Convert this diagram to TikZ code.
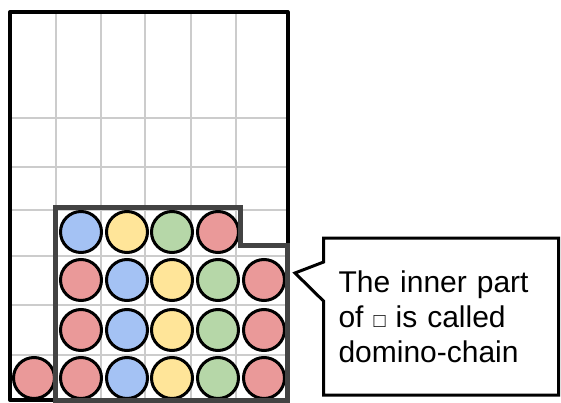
\documentclass[tikz,border=0pt]{standalone}
\usepackage{fontspec}
\setmainfont{Liberation Sans}
\usetikzlibrary{shapes.callouts}
\definecolor{ballred}{HTML}{EA9999}
\definecolor{ballblue}{HTML}{A4C2F4}
\definecolor{ballyellow}{HTML}{FFE599}
\definecolor{ballgreen}{HTML}{B6D7A8}
\definecolor{gridgray}{HTML}{CCCCCC}
\definecolor{chaingray}{HTML}{434343}

\begin{document}
\begin{tikzpicture}[x=1pt,y=-1pt,line width=2pt,
  ball/.style={circle,draw=black,line width=3pt,minimum size=41pt,inner sep=0pt},
  grid line/.style={draw=gridgray,line width=2pt}]
\useasboundingbox (0,0) rectangle (561,403);
\draw[grid line] (56,12)--(56,400);
\draw[grid line] (101,12)--(101,400);
\draw[grid line] (145,12)--(145,400);
\draw[grid line] (191,12)--(191,400);
\draw[grid line] (236,12)--(236,400);
\draw[grid line] (10,118)--(288,118);
\draw[grid line] (10,167)--(288,167);
\draw[grid line] (10,210)--(288,210);
\draw[grid line] (10,256)--(288,256);
\draw[grid line] (10,305)--(288,305);
\draw[grid line] (10,355)--(288,355);
\node[ball,fill=ballred] (b11) at (34,378) {};
\node[ball,fill=ballred] (b21) at (81,378) {};
\node[ball,fill=ballblue] (b31) at (127,378) {};
\node[ball,fill=ballyellow] (b41) at (172,378) {};
\node[ball,fill=ballgreen] (b51) at (218,378) {};
\node[ball,fill=ballred] (b61) at (264,378) {};
\node[ball,fill=ballred] (b22) at (81,330) {};
\node[ball,fill=ballblue] (b32) at (127,330) {};
\node[ball,fill=ballyellow] (b42) at (172,330) {};
\node[ball,fill=ballgreen] (b52) at (218,330) {};
\node[ball,fill=ballred] (b62) at (264,330) {};
\node[ball,fill=ballred] (b23) at (81,280) {};
\node[ball,fill=ballblue] (b33) at (127,280) {};
\node[ball,fill=ballyellow] (b43) at (172,280) {};
\node[ball,fill=ballgreen] (b53) at (218,280) {};
\node[ball,fill=ballred] (b63) at (264,280) {};
\node[ball,fill=ballblue] (b24) at (81,232) {};
\node[ball,fill=ballyellow] (b34) at (127,232) {};
\node[ball,fill=ballgreen] (b44) at (172,232) {};
\node[ball,fill=ballred] (b54) at (218,232) {};
\draw[line width=4pt,line join=round] (10,12) rectangle (287.5,400);
\draw[chaingray,line width=5pt] (55.5,207)--(240.5,207)--(240.5,245)--(287,245)--(287,400)--(55.5,400)--cycle;
\node[rectangle callout,draw,line width=3pt,minimum width=235pt,minimum height=157pt,
  text width=205pt,align=left,inner xsep=15pt,callout pointer width=39pt,
  callout absolute pointer={(295,273)},font=\fontsize{30}{35}\selectfont] (note) at (441,316.5)
  {The inner part\\of {\fontsize{20}{35}\selectfont□} is called\\domino-chain};
\end{tikzpicture}
\end{document}
